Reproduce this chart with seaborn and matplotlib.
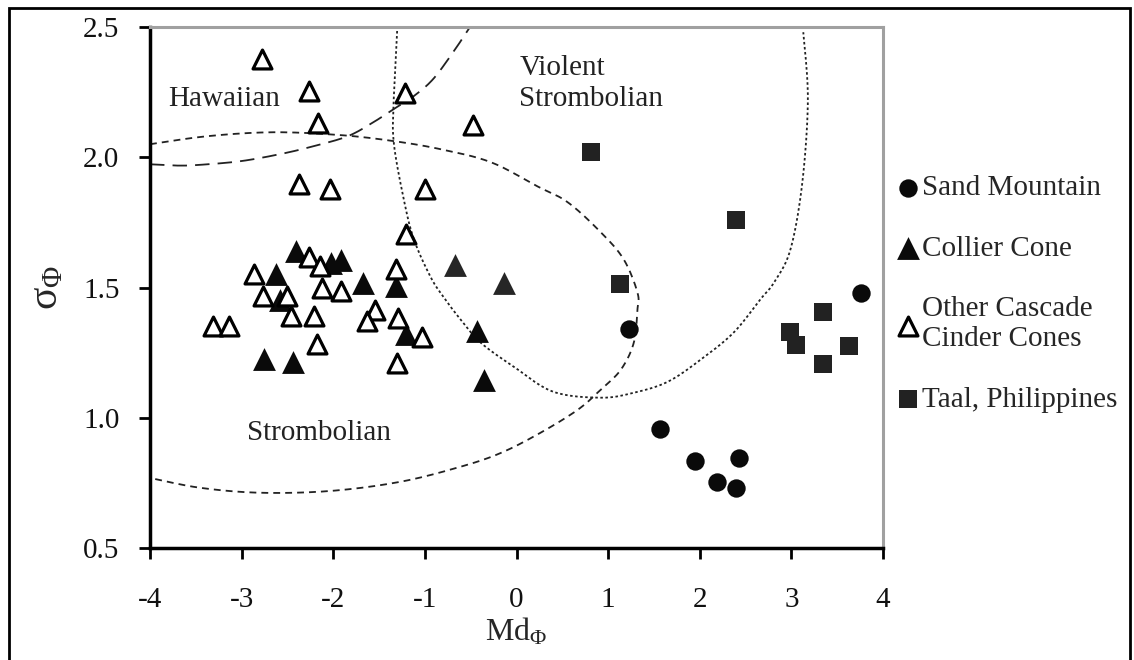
import numpy as np
import pandas as pd
import matplotlib
matplotlib.use("Agg")
import matplotlib.pyplot as plt
import seaborn as sns

# ---------------- data ----------------
sand_x = [1.23, 3.76, 1.57, 1.95, 2.43, 2.19, 2.40]
sand_y = [1.342, 1.478, 0.958, 0.835, 0.847, 0.753, 0.732]

collier_x = [-2.41, -2.62, -2.58, -2.03, -1.92, -1.68, -1.32, -1.21, -2.76, -2.44,
             -0.43, -0.36]
collier_y = [1.640, 1.550, 1.451, 1.595, 1.605, 1.518, 1.505, 1.320, 1.226, 1.213,
             1.332, 1.143]
collier2_x = [-0.67, -0.14]
collier2_y = [1.585, 1.518]

other_x = [-2.78, -2.26, -2.17, -1.22, -0.48, -2.37, -2.04, -1.00, -1.21, -2.27,
           -2.15, -2.86, -1.31, -2.77, -2.50, -2.12, -1.92, -2.46, -2.21, -1.54,
           -1.63, -1.29, -1.03, -2.18, -1.30, -3.31, -3.14]
other_y = [2.377, 2.254, 2.130, 2.246, 2.123, 1.896, 1.877, 1.880, 1.704, 1.618,
           1.582, 1.553, 1.572, 1.469, 1.467, 1.499, 1.488, 1.390, 1.390, 1.413,
           1.370, 1.383, 1.310, 1.285, 1.210, 1.354, 1.354]

taal_x = [0.815, 2.40, 1.135, 3.34, 2.98, 3.05, 3.63, 3.34]
taal_y = [2.020, 1.758, 1.514, 1.406, 1.328, 1.281, 1.276, 1.208]

# field boundaries (control points)
hawaiian_x = [-4.0, -3.70, -3.45, -3.01, -2.58, -2.22, -1.84, -1.56, -1.34, -1.12,
              -0.91, -0.69, -0.50]
hawaiian_y = [1.973, 1.968, 1.971, 1.985, 2.012, 2.042, 2.081, 2.135, 2.185, 2.235,
              2.300, 2.404, 2.504]

stromb_x = [-4.0, -3.37, -2.65, -1.92, -1.34, -0.83, -0.28, 0.23, 0.56, 0.92, 1.17,
            1.32, 1.32, 1.28, 1.14, 0.92, 0.67, 0.26, -0.17, -0.61, -1.27, -2.03,
            -2.79, -3.45, -4.0]
stromb_y = [2.050, 2.081, 2.096, 2.085, 2.062, 2.031, 1.981, 1.888, 1.827, 1.712,
            1.608, 1.481, 1.415, 1.288, 1.185, 1.108, 1.031, 0.942, 0.865, 0.812,
            0.754, 0.719, 0.712, 0.731, 0.769]

violent_x = [-1.30, -1.34, -1.34, -1.23, -1.12, -0.94, -0.80, -0.61, -0.39, -0.03,
             0.40, 0.92, 1.28, 1.65, 2.01, 2.37, 2.66, 2.81, 2.99, 3.12, 3.18, 3.13]
violent_y = [2.504, 2.223, 2.058, 1.838, 1.685, 1.542, 1.465, 1.377, 1.288, 1.196,
             1.100, 1.077, 1.096, 1.138, 1.223, 1.327, 1.454, 1.519, 1.646, 1.904,
             2.223, 2.480]

x_ticks = [-4, -3, -2, -1, 0, 1, 2, 3, 4]
y_ticks = [0.5, 1.0, 1.5, 2.0, 2.5]


def smooth(xs, ys, n=16):
    """Catmull-Rom smoothing of a boundary line (like a smoothed Excel line)."""
    p = np.column_stack([xs, ys]).astype(float)
    p = np.vstack([p[0], p, p[-1]])
    out = []
    t = np.linspace(0, 1, n, endpoint=False)[:, None]
    for i in range(1, len(p) - 2):
        p0, p1, p2, p3 = p[i - 1], p[i], p[i + 1], p[i + 2]
        seg = 0.5 * ((2 * p1) + (-p0 + p2) * t + (2 * p0 - 5 * p1 + 4 * p2 - p3) * t ** 2
                     + (-p0 + 3 * p1 - 3 * p2 + p3) * t ** 3)
        out.append(seg)
    out.append(p[-2][None, :])
    out = np.vstack(out)
    return out[:, 0], out[:, 1]


# ---------------- style ----------------
sns.set_theme(style="white")
plt.rcParams['font.family'] = ['Liberation Serif', 'DejaVu Serif']
plt.rcParams['mathtext.fontset'] = 'custom'
plt.rcParams['mathtext.rm'] = 'Liberation Serif'
plt.rcParams['mathtext.it'] = 'Liberation Serif:italic'
plt.rcParams['mathtext.default'] = 'regular'

FS = 21
fig = plt.figure(figsize=(11.34, 6.6), dpi=100)
ax = fig.add_axes([150 / 1134, 1 - 548 / 660, (883 - 150) / 1134, (548 - 27) / 660])

# boundaries
hx, hy = smooth(hawaiian_x, hawaiian_y)
sx, sy = smooth(stromb_x, stromb_y)
vx, vy = smooth(violent_x, violent_y)
ax.plot(hx, hy, color='#222222', lw=1.3, linestyle=(0, (8, 4.5)))
ax.plot(sx, sy, color='#222222', lw=1.3, linestyle=(0, (3.8, 2.8)))
ax.plot(vx, vy, color='#222222', lw=1.3, linestyle=(0, (1.4, 1.4)))

# points
sns.scatterplot(x=sand_x, y=sand_y, ax=ax, marker='o', s=175, color='#0a0a0a',
                linewidth=0, label='Sand Mountain', zorder=3)
sns.scatterplot(x=collier_x, y=collier_y, ax=ax, marker='^', s=270, color='#0a0a0a',
                linewidth=0, label='Collier Cone', zorder=3)
sns.scatterplot(x=collier2_x, y=collier2_y, ax=ax, marker='^', s=270, color='#262626',
                linewidth=0, zorder=3)
sns.scatterplot(x=other_x, y=other_y, ax=ax, marker='^', s=185, facecolor='white',
                edgecolor='black', linewidth=2.3, label='Other Cascade\nCinder Cones',
                zorder=4)
sns.scatterplot(x=taal_x, y=taal_y, ax=ax, marker='s', s=150, color='#222222',
                linewidth=0, label='Taal, Philippines', zorder=4)

ax.set_xlim(-4, 4)
ax.set_ylim(0.5, 2.5)
ax.set_xticks(x_ticks)
ax.set_xticklabels([str(t) for t in x_ticks])
ax.set_yticks(y_ticks)
ax.set_yticklabels([f"{t:.1f}" for t in y_ticks])
ax.tick_params(axis='both', direction='out', length=8, width=2, color='black',
               labelsize=FS, labelcolor='#111111')
ax.tick_params(axis='x', pad=20)
ax.tick_params(axis='y', pad=14)
ax.tick_params(left=True, bottom=True)

for side in ['left', 'bottom']:
    ax.spines[side].set_color('black')
    ax.spines[side].set_linewidth(2.5)
for side in ['top', 'right']:
    ax.spines[side].set_color('#a0a0a0')
    ax.spines[side].set_linewidth(2.2)

ax.set_xlabel(r'Md$_{\Phi}$', fontsize=23, labelpad=2)
ax.set_ylabel(r'$\sigma_{\Phi}$', fontsize=30, labelpad=12)

# field labels
ax.text(-3.80, 2.223, 'Hawaiian', fontsize=FS, color='#222222', va='center', ha='left')
ax.text(0.03, 2.285, 'Violent\nStrombolian', fontsize=FS, color='#222222',
        va='center', ha='left', linespacing=1.25)
ax.text(-2.94, 0.94, 'Strombolian', fontsize=FS, color='#222222', va='center', ha='left')

# legend
ax.get_legend().remove()
h, l = ax.get_legend_handles_labels()
fig.legend(h, l, loc='upper left', bbox_to_anchor=(899 / 1134, 1 - 175 / 660),
           frameon=False, fontsize=FS, handlelength=0.6, handletextpad=0.2,
           labelspacing=1.17, borderpad=0, borderaxespad=0, markerscale=1.0)

# figure frame
fig.add_artist(plt.Rectangle((9 / 1134, -0.01), (1130 - 9) / 1134, 1 - 8 / 660 + 0.01,
                             transform=fig.transFigure, fill=False, lw=2,
                             edgecolor='black'))

fig.savefig('out.png', dpi=100)
